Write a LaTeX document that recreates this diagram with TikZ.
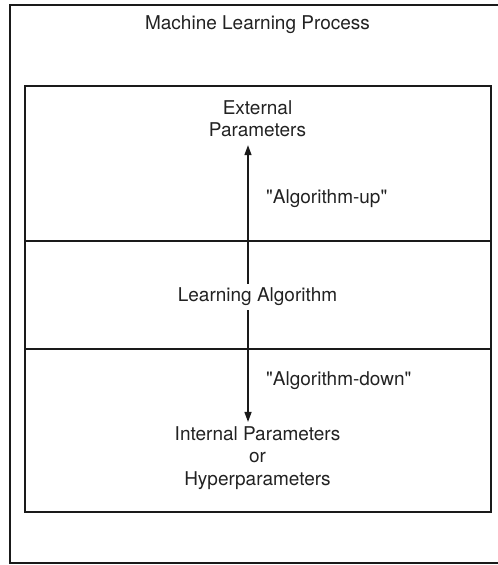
\documentclass[tikz,border=0pt]{standalone}
\usepackage{fontspec}
\setmainfont{TeX Gyre Heros}
\usetikzlibrary{arrows.meta}
\definecolor{boxline}{HTML}{1a1a1a}
\definecolor{labeltext}{HTML}{222222}
\tikzstyle{txt}=[font=\fontsize{19}{22.5}\selectfont, text=labeltext, align=center, inner sep=4pt]
\tikzstyle{frame}=[draw=boxline, line width=1.4pt]
\tikzstyle{flow}=[draw=boxline, line width=1.4pt, -{Triangle[length=10pt, width=7pt]}]

\begin{document}
\begin{tikzpicture}[x=1pt, y=-1pt]

\clip (0,0) rectangle (498,565);

\draw [frame] (10,5) rectangle (510,563);
\draw [frame] (25,86) rectangle (491,512);
\draw [frame] (25,241) -- (491,241);
\draw [frame] (25,349) -- (491,349);

% base of a two or three line node is its last line
\node [txt, anchor=base] (title) at (257.5, 29.5) {Machine Learning Process};
\node [txt, anchor=base] (ext)   at (257.5,136.7) {External\\Parameters};
\node [txt, anchor=base] (learn) at (257.5,301.7) {Learning Algorithm};
\node [txt, anchor=base] (int)   at (257.5,485  ) {Internal Parameters\\or\\Hyperparameters};
\node [txt, anchor=base west] (up)   at (262,203) {\textquotedbl Algorithm-up\textquotedbl};
\node [txt, anchor=base west] (down) at (262,385) {\textquotedbl Algorithm-down\textquotedbl};

\coordinate (axis) at (248,0);

\draw [flow, shorten >=4pt] (axis |- learn.north) -- (axis |- ext.south);
\draw [flow]                (axis |- learn.south) -- (axis |- int.north);

\end{tikzpicture}
\end{document}
